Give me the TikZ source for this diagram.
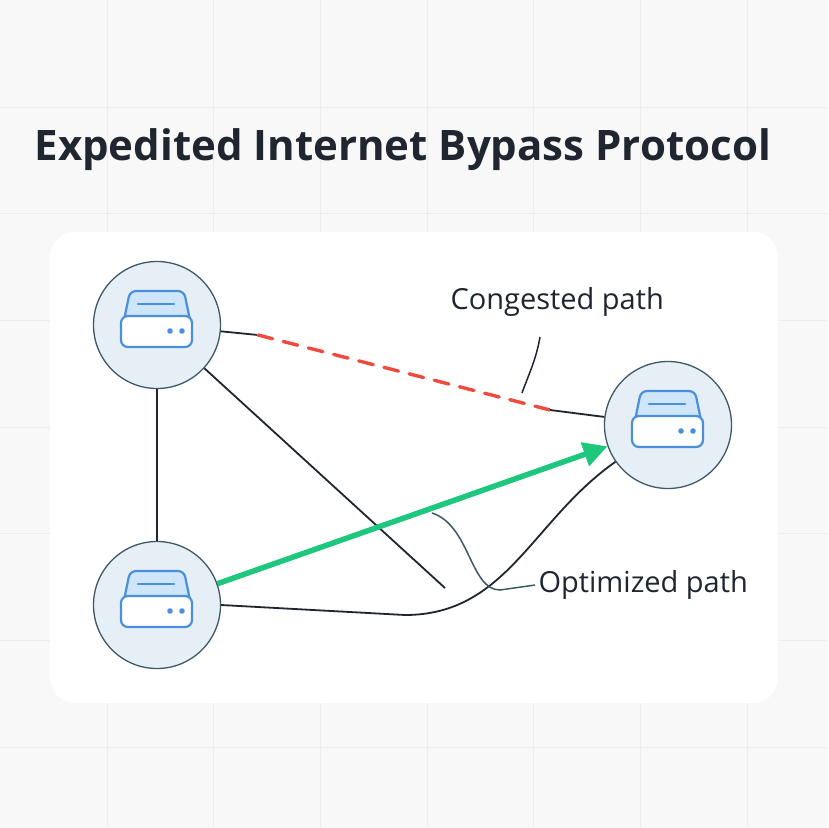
\documentclass[tikz,border=0pt]{standalone}
\usepackage{fontspec}
\setmainfont{Open Sans}
\usetikzlibrary{arrows.meta}
\definecolor{bg}{HTML}{F8F8F8}
\definecolor{grid}{HTML}{EDEDED}
\definecolor{ink}{HTML}{1F2630}
\definecolor{nodefill}{HTML}{E6EEF6}
\definecolor{nodeedge}{HTML}{3E5866}
\definecolor{iconblue}{HTML}{4A8FDB}
\definecolor{iconlight}{HTML}{CFE6FA}
\definecolor{redc}{HTML}{F04A3C}
\definecolor{greenc}{HTML}{1DC77E}
\begin{document}
\begin{tikzpicture}[x=1pt,y=-1pt,
  srv/.style={circle,draw=nodeedge,fill=nodefill,line width=1.3pt,minimum size=127pt,inner sep=0pt},
  link/.style={draw=ink,line width=1.8pt},
  callout/.style={draw=ink,line width=1.5pt},
  lbl/.style={font=\fontsize{29}{32}\selectfont,text=ink,anchor=west}]
\fill[bg] (0,0) rectangle (828,828);
\useasboundingbox (0,0) rectangle (828,828);
\foreach \g in {107,213,320,427,533,640,747}{
  \draw[grid,line width=0.8pt] (\g,0) -- (\g,828);
  \draw[grid,line width=0.8pt] (0,\g) -- (828,\g);}
\fill[white,rounded corners=25pt] (50,232) rectangle (778,703);
\node[anchor=base west,font=\fontsize{42}{46}\selectfont\bfseries,text=ink] (title) at (31,160) {Expedited Internet Bypass Protocol};
\node[srv] (A) at (157,325) {};
\node[srv] (B) at (157,605) {};
\node[srv] (C) at (668,425) {};
\foreach \n in {A,B,C}{
  \begin{scope}[shift={(\n)}]
   \draw[iconblue,fill=iconlight,line width=2.2pt,rounded corners=6pt] (-35,5) -- (-27,-34) -- (27,-34) -- (35,5);
   \draw[iconblue,fill=white,line width=2.2pt,rounded corners=7pt] (-36,-9) rectangle (35,22);
   \draw[iconblue,line width=2.6pt,line cap=round] (-19,-21) -- (17,-21);
   \fill[iconblue] (13,6) circle (2.8pt) (25,6) circle (2.8pt);
  \end{scope}}
% links
\draw[link] (A) -- (B);
\coordinate (m1) at (445,588);
\draw[link] (A) -- (m1);
\draw[link] (B.east) -- (405,615) to[out=0,in=215] (C);
\coordinate (d1) at (258,335);
\coordinate (d2) at (550,410);
\draw[link] (A) -- (d1);
\draw[redc,line width=3.4pt,dash pattern=on 15pt off 11pt,line cap=round] (d1) -- (d2);
\draw[link] (d2) -- (C);
\draw[greenc,line width=5.5pt,-{Triangle[length=24pt,width=24pt]}] (B) -- (C);
% labels
\node[lbl] (cg) at (447,302) {Congested path};
\node[lbl] (op) at (535,585) {Optimized path};
\draw[callout] (540,337) to[out=260,in=70] (522,393);
\draw[callout,draw=nodeedge] (432,513) .. controls (470,525) and (470,590) .. (500,590) -- (op.west);
\end{tikzpicture}
\end{document}
